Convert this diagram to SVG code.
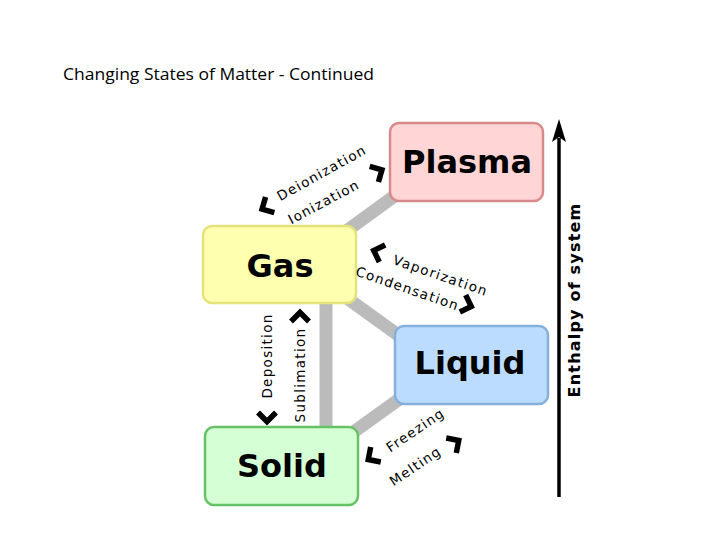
<svg xmlns="http://www.w3.org/2000/svg" width="720" height="540" viewBox="0 0 720 540">
<style>
.box{stroke-width:2.5}
.name{font-family:"DejaVu Sans",sans-serif;font-weight:bold;font-size:32px;fill:#000;text-anchor:middle}
.lbl{font-family:"DejaVu Sans",sans-serif;font-size:13.5px;letter-spacing:1.3px;fill:#000;text-anchor:middle}
.bar{stroke:#bbbbbb;stroke-width:13;fill:none}
.chev{stroke:#000;stroke-width:5.5;fill:none;stroke-linejoin:miter}
</style>
<defs>
<path id="ch" d="M -4.5 -9 L 4.5 0 L -4.5 9"/>
</defs>
<rect width="720" height="540" fill="#fff"/>
<text x="63" y="80" font-family="'Open Sans','Liberation Sans',sans-serif" font-size="16" textLength="311" lengthAdjust="spacingAndGlyphs" fill="#000">Changing States of Matter - Continued</text>
<g id="connectors">
<line class="bar" x1="345" y1="232" x2="400" y2="192"/>
<line class="bar" x1="340" y1="293" x2="405" y2="340"/>
<line class="bar" x1="326" y1="300" x2="326" y2="430"/>
<line class="bar" x1="348" y1="436" x2="405" y2="395"/>
<line x1="559" y1="497" x2="559" y2="138" stroke="#000" stroke-width="3.5"/>
<path d="M559 119 L566 142 L559 137 L552 142 Z" fill="#000"/>
</g>
<g id="plasma">
<rect class="box" x="390" y="123" width="153" height="78" rx="9" fill="#ffd5d5" stroke="#d88a8a"/>
<text class="name" x="467" y="173">Plasma</text>
</g>
<g id="gas">
<rect class="box" x="203" y="226" width="153" height="77" rx="9" fill="#ffffb0" stroke="#e3e37c"/>
<text class="name" x="280" y="277">Gas</text>
</g>
<g id="liquid">
<rect class="box" x="395" y="326" width="153" height="78" rx="9" fill="#bcdcff" stroke="#86b0dc"/>
<text class="name" x="470" y="374">Liquid</text>
</g>
<g id="solid">
<rect class="box" x="205" y="427" width="153" height="78" rx="9" fill="#d5ffd5" stroke="#66c266"/>
<text class="name" x="282" y="477">Solid</text>
</g>
<g id="labels">
<text class="lbl" transform="translate(324,177) rotate(-29)">Deionization</text>
<text class="lbl" transform="translate(326,206) rotate(-28)">Ionization</text>
<text class="lbl" transform="translate(439,280) rotate(19)">Vaporization</text>
<text class="lbl" transform="translate(406,293) rotate(19)">Condensation</text>
<text class="lbl" transform="translate(272,356) rotate(-90)">Deposition</text>
<text class="lbl" transform="translate(305,375) rotate(-90)">Sublimation</text>
<text class="lbl" transform="translate(418,434) rotate(-34)">Freezing</text>
<text class="lbl" transform="translate(418,470) rotate(-34)">Melting</text>
<text font-family="'DejaVu Sans',sans-serif" font-size="16" font-weight="bold" letter-spacing="1.2" text-anchor="middle" transform="translate(580,300) rotate(-90)">Enthalpy of system</text>
</g>
<g id="chevrons">
<use href="#ch" class="chev" transform="translate(378,172) rotate(-29)"/>
<use href="#ch" class="chev" transform="translate(266,207) rotate(151)"/>
<use href="#ch" class="chev" transform="translate(378,252) rotate(199)"/>
<use href="#ch" class="chev" transform="translate(467,305) rotate(19)"/>
<use href="#ch" class="chev" transform="translate(300,317) rotate(-90)"/>
<use href="#ch" class="chev" transform="translate(267,417) rotate(90)"/>
<use href="#ch" class="chev" transform="translate(372,457) rotate(146)"/>
<use href="#ch" class="chev" transform="translate(455,443) rotate(-34)"/>
</g>
</svg>
